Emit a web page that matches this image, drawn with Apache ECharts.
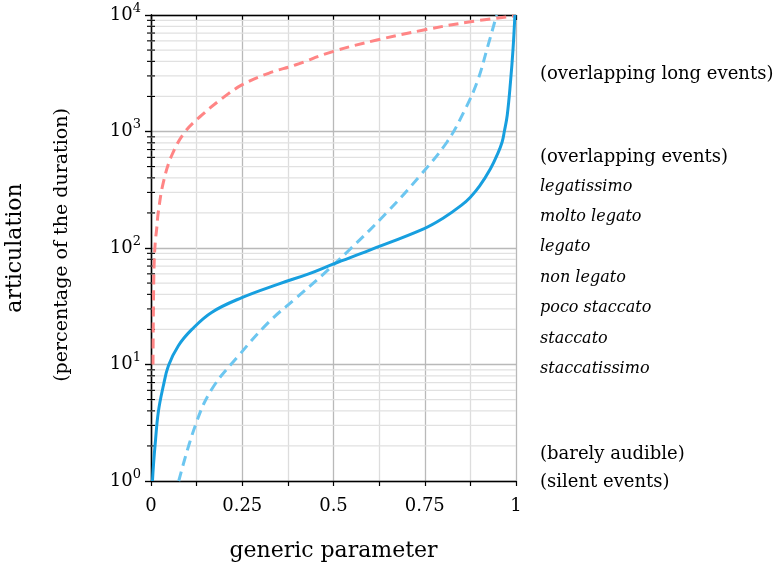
<!DOCTYPE html>
<html>
<head>
<meta charset="utf-8">
<script src="https://cdn.jsdelivr.net/npm/echarts@6/dist/echarts.min.js"></script>
<style>
  html, body { margin: 0; padding: 0; background: #fff; }
  #chart { width: 782px; height: 567px; }
</style>
</head>
<body>
<div id="chart"></div>
<script>
// Articulation (percentage of note duration) against a generic control parameter.
const xTicks = [0, 0.25, 0.5, 0.75, 1];
const xTickLabels = ['0', '0.25', '0.5', '0.75', '1'];
const yDecades = [1, 10, 100, 1000, 10000];
const yExponents = ['0', '1', '2', '3', '4'];

// Solid curve: [parameter, articulation]
const solidCurve = [
  [0.004, 1], [0.007, 1.4], [0.011, 2.0], [0.020, 3.9], [0.034, 6.6], [0.048, 9.8],
  [0.075, 14.5], [0.112, 20], [0.166, 28], [0.249, 37.5], [0.349, 49],
  [0.432, 60], [0.50, 73], [0.596, 95], [0.747, 146], [0.80, 180], [0.85, 232],
  [0.875, 273], [0.90, 339], [0.930, 479], [0.950, 646], [0.962, 813], [0.968, 1000],
  [0.976, 1380], [0.985, 2680], [0.992, 5170], [0.997, 10000]
];

// Light dashed curve
const lightDashedCurve = [
  [0.076, 1], [0.121, 2.97], [0.166, 6.1], [0.240, 11.9], [0.322, 23],
  [0.395, 36.6], [0.468, 58], [0.546, 98], [0.647, 203], [0.738, 421],
  [0.811, 813], [0.857, 1470], [0.894, 2680], [0.921, 5170], [0.947, 10000]
];

// Red dashed curve
const redDashedCurve = [
  [0.0055, 10], [0.007, 40], [0.009, 80], [0.012, 115], [0.0155, 145],
  [0.020, 203], [0.034, 368], [0.057, 625], [0.093, 991], [0.139, 1380],
  [0.194, 1912], [0.249, 2510], [0.322, 3160], [0.395, 3720], [0.496, 4830],
  [0.619, 6100], [0.747, 7430], [0.875, 8750], [0.994, 9800]
];

// Annotations listed beside the plot
const noteTexts = [
  '(overlapping long events)', '(overlapping events)', 'legatissimo',
  'molto legato', 'legato', 'non legato', 'poco staccato', 'staccato',
  'staccatissimo', '(barely audible)', '(silent events)'
];
const noteItalic = [false, false, true, true, true, true, true, true, true, false, false];

// ---- layout ----
const FONT = '"DejaVu Serif", "Liberation Serif", serif';
const noteY = [74, 157, 187, 217, 247, 278, 308, 339, 369, 454, 482];
const GRID = { left: 151, right: 266, top: 15, bottom: 86, outerBoundsMode: 'none' };

// minor log positions (2..9 within each decade)
const minorLogValues = [];
for (let d = 0; d < yDecades.length - 1; d++) {
  for (let m = 2; m <= 9; m++) minorLogValues.push([0, m * yDecades[d]]);
}

const chart = echarts.init(document.getElementById('chart'), null, { renderer: 'canvas' });

const expOf = {};
yDecades.forEach((v, i) => { expOf[v] = yExponents[i]; });
const xLabelOf = {};
xTicks.forEach((v, i) => { xLabelOf[v] = xTickLabels[i]; });

const baseX = {
  type: 'value', min: 0, max: 1, interval: 0.25,
  axisLine: { show: true, onZero: false, lineStyle: { color: '#000', width: 1.3 } },
  splitLine: { show: false },
  minorSplitLine: { show: false },
  axisLabel: { show: false }
};
const baseY = {
  type: 'log', logBase: 10, min: 1, max: 10000,
  axisLine: { show: true, lineStyle: { color: '#000', width: 1.3 } },
  splitLine: { show: false },
  axisLabel: { show: false }
};

const option = {
  animation: false,
  backgroundColor: '#fff',
  grid: GRID,
  xAxis: [
    Object.assign({}, baseX, {
      name: 'generic parameter',
      nameLocation: 'middle',
      nameGap: 59,
      nameTextStyle: { fontFamily: FONT, fontSize: 22, color: '#000' },
      axisTick: { show: true, inside: false, length: 5, lineStyle: { color: '#000', width: 1.2 } },
      minorTick: { show: true, splitNumber: 2, length: 5, lineStyle: { color: '#000', width: 1.2 } },
      splitLine: { show: true, lineStyle: { color: '#b9b9b9', width: 1.3 } },
      minorSplitLine: { show: true, lineStyle: { color: '#dddddd', width: 1.3 } },
      axisLabel: {
        show: true, margin: 16, fontFamily: FONT, fontSize: 18, color: '#000',
        formatter: v => (xLabelOf[v] !== undefined ? xLabelOf[v] : '')
      }
    }),
    Object.assign({}, baseX, {
      axisTick: { show: true, inside: true, length: 5, lineStyle: { color: '#000', width: 1.2 } },
      minorTick: { show: true, splitNumber: 2, length: 5, lineStyle: { color: '#000', width: 1.2 } }
    })
  ],
  yAxis: [
    Object.assign({}, baseY, {
      axisTick: { show: true, inside: false, length: 6, lineStyle: { color: '#000', width: 1.2 } },
      splitLine: { show: true, lineStyle: { color: '#b9b9b9', width: 1.3 } },
      axisLabel: {
        show: true, margin: 10, fontFamily: FONT, color: '#000',
        formatter: v => '{b|10}{s|' + (expOf[v] || '') + '}',
        rich: {
          b: { fontFamily: FONT, fontSize: 18, color: '#000' },
          s: { fontFamily: FONT, fontSize: 13, color: '#000', padding: [0, 0, 13, 0] }
        }
      }
    }),
    Object.assign({}, baseY, {
      axisTick: { show: true, inside: true, length: 6, lineStyle: { color: '#000', width: 1.2 } }
    })
  ],
  graphic: [],
  series: [
    {
      // minor log grid lines and their ticks on the left axis
      type: 'custom',
      xAxisIndex: 0, yAxisIndex: 0,
      clip: false,
      silent: true,
      z: 1,
      data: minorLogValues,
      renderItem: (params, api) => {
        const v = api.value(1);
        const p0 = api.coord([0, v]);
        const p1 = api.coord([1, v]);
        return {
          type: 'group',
          children: [
            { type: 'line', shape: { x1: p0[0], y1: p0[1], x2: p1[0], y2: p1[1] },
              style: { stroke: '#e1e1e1', lineWidth: 1.3 } },
            { type: 'line', shape: { x1: p0[0] - 4, y1: p0[1], x2: p0[0] + 4, y2: p0[1] },
              style: { stroke: '#000', lineWidth: 1.1 }, z2: 10 }
          ]
        };
      }
    },
    {
      type: 'line', data: redDashedCurve, showSymbol: false, smooth: 0.4,
      lineStyle: { color: '#ff8585', width: 3, type: [10, 6] }, z: 3
    },
    {
      type: 'line', data: lightDashedCurve, showSymbol: false, smooth: 0.4,
      lineStyle: { color: '#6cc6f0', width: 3, type: [10, 6] }, z: 3
    },
    {
      type: 'line', data: solidCurve, showSymbol: false, smooth: 0.4,
      lineStyle: { color: '#179fdf', width: 3 }, z: 4
    }
  ]
};

// axis title on the left (two lines of different size)
option.graphic.push({
  type: 'text', x: 15, y: 248, rotation: Math.PI / 2,
  style: { text: 'articulation', font: '22px ' + FONT, fill: '#000', align: 'center', verticalAlign: 'middle' }
});
option.graphic.push({
  type: 'text', x: 62, y: 245, rotation: Math.PI / 2,
  style: { text: '(percentage of the duration)', font: '19px ' + FONT, fill: '#000', align: 'center', verticalAlign: 'middle' }
});

// notes on the right
noteTexts.forEach((t, i) => {
  option.graphic.push({
    type: 'text', x: 540, y: noteY[i],
    style: {
      text: t,
      font: (noteItalic[i] ? 'italic 16px ' : '18px ') + FONT,
      fill: '#000', align: 'left', verticalAlign: 'middle'
    }
  });
});

chart.setOption(option);
</script>
</body>
</html>
